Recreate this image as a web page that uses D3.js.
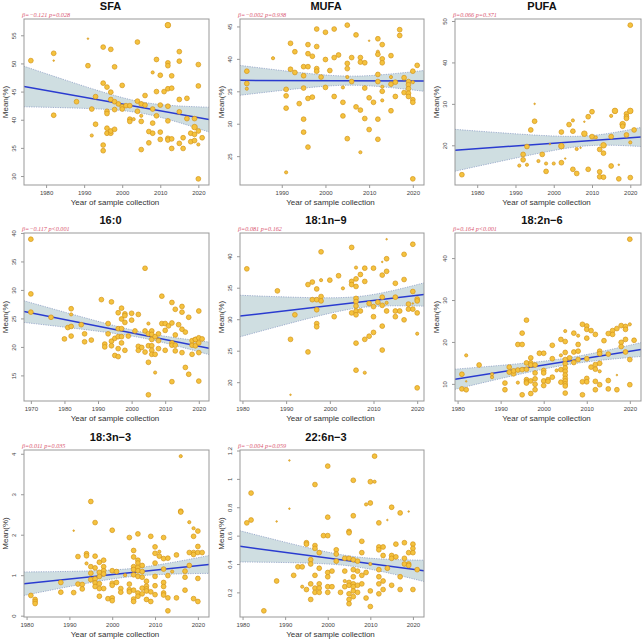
<!DOCTYPE html>
<html><head><meta charset="utf-8">
<script src="https://cdn.jsdelivr.net/npm/d3@7"></script>
<style>body{margin:0;background:#fff}svg{display:block}</style>
</head><body>
<script>
// ---------- DATA (points: [year, mean %, size code]) ----------
const titles = ["SFA","MUFA","PUFA","16:0","18:1n\u22129","18:2n\u22126","18:3n\u22123","22:6n\u22123"];
const betaLabels = ["\u03b2=\u22120.121","\u03b2=\u22120.002","\u03b2=0.066","\u03b2=\u22120.117","\u03b2=0.081","\u03b2=0.164","\u03b2=0.011","\u03b2=\u22120.004"];
const pLabels = ["p=0.028","p=0.938","p=0.371","p<0.001","p=0.162","p<0.001","p=0.035","p=0.059"];
const betas = [-0.121,-0.002,0.066,-0.117,0.081,0.164,0.011,-0.004];
const fitAt2000 = [42.78,36.65,20.5,22.45,32.17,14.48,1.017,0.442];
// CI half-widths: at left edge, at right edge, minimum
const ciLeft = [3.6,2.3,5.05,1.9,3.3,2.4,0.29,0.11];
const ciRight = [2.2,1.6,2.3,1.1,1.85,1.65,0.22,0.075];
const ciMin = [1.0,0.7,1.2,0.5,0.9,0.8,0.1,0.035];

const xTicks = [
 [1980,1990,2000,2010,2020],[1990,2000,2010,2020],[1980,1990,2000,2010,2020],
 [1970,1980,1990,2000,2010,2020],[1980,1990,2000,2010,2020],[1980,1990,2000,2010,2020],
 [1980,1990,2000,2010,2020],[1980,1990,2000,2010,2020]];
const yTicks = [
 [30,35,40,45,50,55],[25,30,35,40,45],[20,30,40,50],[15,20,25,30,35,40],
 [20,25,30,35,40],[10,20,30,40],[0,1,2,3,4],[0.2,0.4,0.6,0.8,1,1.2]];

const sfaPts = [[1976,50.5,3],[1982,51.8,3],[1982,50.5,1],[1982,40.8,3],[1988,43.2,3],[1991,54.4,1],[1991,49.6,3],[1992,41.9,3],[1992,37.2,2],[1993,44.1,3],[1993,39.2,3],[1995,52.9,3],[1995,46.5,3],[1995,35.5,3],[1995,34.5,3],[1996,45.8,3],[1996,41.5,3],[1996,41.1,3],[1996,38.5,3],[1996,37.6,3],[1997,44.9,3],[1997,52.5,3],[1997,43.6,3],[1997,37.6,3],[1997,38.0,3],[1998,49.4,3],[1998,43.2,3],[1998,41.8,3],[1998,38.3,3],[1999,42.8,3],[2000,46.1,3],[2000,42.3,3],[2000,41.9,3],[2001,42.5,3],[2002,42.5,3],[2002,40.1,3],[2002,39.7,3],[2003,40.1,2],[2004,53.8,3],[2004,43.3,3],[2004,41.5,3],[2005,40.7,2],[2005,42.8,3],[2005,39.7,3],[2005,34.7,3],[2006,44.3,3],[2006,42.6,3],[2007,37.9,3],[2007,35.9,3],[2008,48.4,2],[2008,41.9,3],[2008,39.4,3],[2008,37.6,3],[2009,50.7,3],[2009,45.0,3],[2009,40.7,3],[2010,47.9,3],[2010,42.6,3],[2010,37.8,3],[2010,36.5,3],[2011,45.0,3],[2012,56.8,4],[2012,50.1,3],[2012,49.6,3],[2012,45.5,3],[2012,42.4,3],[2012,39.8,3],[2012,36.7,3],[2012,36.4,3],[2013,47.8,3],[2013,45.6,3],[2013,36.6,3],[2013,34.9,3],[2015,52.1,3],[2015,50.4,3],[2015,43.6,3],[2015,41.4,3],[2015,35.8,3],[2016,36.8,3],[2016,34.9,3],[2017,43.8,3],[2017,40.2,3],[2018,37.6,3],[2018,36.1,3],[2019,40.2,3],[2019,38.7,4],[2019,37.4,3],[2019,36.3,3],[2020,49.8,3],[2020,46.0,3],[2020,38.0,3],[2020,35.6,2],[2020,29.5,3],[2021,36.8,3]];

const mufaPts = [[1982,38.1,3],[1982,36.2,3],[1982,35.4,2],[1988,40.1,2],[1991,35.3,3],[1991,34.3,3],[1991,32.4,3],[1991,22.5,2],[1992,42.4,3],[1992,38.4,3],[1993,41.1,3],[1993,37.9,3],[1994,33.1,3],[1995,38.8,3],[1995,37.4,3],[1995,35.5,3],[1995,30.7,3],[1995,28.7,3],[1996,42.2,3],[1996,40.8,3],[1996,38.8,3],[1996,33.9,3],[1996,26.4,3],[1997,40.4,3],[1997,34.1,3],[1998,44.6,3],[1998,41.9,3],[1998,38.5,3],[1998,38.1,3],[1999,37.2,3],[2000,44.1,3],[2000,39.9,3],[2000,35.6,3],[2001,38.2,3],[2002,44.6,3],[2002,40.2,3],[2002,34.2,3],[2003,40.6,3],[2004,35.6,2],[2004,33.3,3],[2004,31.2,3],[2005,45.2,3],[2005,39.3,3],[2005,38.5,3],[2005,37.2,2],[2005,27.7,3],[2006,40.2,3],[2006,36.5,3],[2007,43.7,3],[2007,32.6,3],[2008,40.2,3],[2008,39.5,3],[2008,32.1,3],[2008,25.6,2],[2009,39.4,3],[2009,35.5,3],[2009,30.8,3],[2010,42.8,1],[2010,34.0,3],[2010,29.1,3],[2011,33.3,3],[2012,43.1,3],[2012,41.1,2],[2012,40.7,3],[2012,37.6,3],[2012,36.5,3],[2012,30.7,3],[2012,27.6,3],[2013,42.2,3],[2013,40.0,3],[2013,39.4,3],[2013,35.7,2],[2013,35.0,3],[2013,33.6,2],[2015,40.5,3],[2015,37.2,2],[2015,36.1,3],[2015,32.0,3],[2016,36.4,3],[2016,34.2,3],[2017,44.5,3],[2017,43.6,3],[2018,37.1,3],[2018,34.8,3],[2019,36.5,3],[2019,36.0,3],[2019,35.4,3],[2019,34.7,3],[2019,34.2,3],[2020,38.1,3],[2020,36.4,2],[2020,33.7,3],[2020,33.3,3],[2020,21.5,3],[2021,39.0,3]];

const pufaPts = [[1976,12.9,3],[1991,15.1,2],[1992,17.8,3],[1992,16.5,3],[1993,19.7,3],[1993,15.3,2],[1994,23.7,3],[1995,30.0,1],[1995,25.8,3],[1996,16.2,2],[1997,17.8,3],[1998,15.6,2],[1998,13.7,3],[1999,20.3,1],[2000,15.6,2],[2002,23.2,3],[2002,19.8,4],[2002,15.8,3],[2003,16.8,1],[2004,25.0,3],[2005,26.0,2],[2005,23.4,3],[2005,14.2,3],[2006,19.1,2],[2006,13.2,3],[2007,19.4,1],[2008,25.7,1],[2008,22.8,4],[2009,26.9,3],[2009,14.2,3],[2010,28.1,3],[2010,22.1,3],[2011,21.9,2],[2012,19.0,3],[2012,13.6,3],[2012,12.4,3],[2013,20.0,4],[2013,18.1,3],[2013,12.3,3],[2015,27.1,2],[2015,22.1,3],[2015,15.0,3],[2016,28.3,4],[2017,15.3,1],[2017,11.9,3],[2018,25.1,4],[2018,24.6,3],[2019,27.6,3],[2019,26.9,3],[2019,26.5,3],[2019,22.5,3],[2020,49.0,3],[2020,28.3,4],[2020,20.7,2],[2020,12.2,3],[2021,23.7,3]];

const c160Pts = [[1970,38.9,3],[1970,29.3,3],[1970,26.1,3],[1976,25.2,3],[1980,21.4,3],[1981,23.4,3],[1982,26.7,3],[1982,25.7,2],[1982,23.6,3],[1982,21.9,3],[1985,23.9,3],[1986,22.3,3],[1986,20.9,3],[1988,21.2,3],[1991,28.3,3],[1992,20.5,3],[1992,20.0,3],[1993,24.1,3],[1993,22.3,3],[1994,27.9,3],[1994,21.0,3],[1994,20.2,3],[1995,21.5,3],[1995,18.5,3],[1996,26.0,3],[1996,23.2,3],[1996,21.8,3],[1996,19.7,3],[1996,18.3,3],[1997,26.8,3],[1997,24.9,3],[1997,23.2,3],[1997,21.8,3],[1997,20.7,3],[1998,25.8,3],[1998,25.5,3],[1998,24.3,3],[1998,19.4,3],[1999,21.9,3],[2000,25.9,3],[2000,24.7,3],[2001,22.8,3],[2002,25.7,3],[2002,20.1,3],[2002,19.4,3],[2003,19.9,3],[2004,33.8,3],[2004,22.8,3],[2004,19.1,3],[2005,24.1,2],[2005,22.3,3],[2005,20.2,3],[2005,17.3,3],[2005,11.6,3],[2006,22.8,3],[2006,22.2,3],[2006,21.3,3],[2006,20.2,3],[2006,19.4,3],[2006,18.7,3],[2007,21.8,3],[2007,18.7,3],[2007,15.5,2],[2008,22.3,3],[2008,21.1,3],[2008,19.7,3],[2009,28.9,3],[2009,24.1,3],[2010,24.1,3],[2010,22.9,3],[2010,19.4,3],[2011,23.7,3],[2012,27.8,3],[2012,24.2,3],[2012,20.7,3],[2012,20.3,3],[2012,13.9,3],[2013,26.6,3],[2013,22.1,3],[2013,20.3,3],[2013,19.3,3],[2014,23.9,3],[2015,27.1,3],[2015,26.1,3],[2015,23.1,3],[2015,19.0,3],[2016,22.6,3],[2016,16.4,3],[2017,25.2,3],[2017,15.2,3],[2018,20.3,3],[2018,18.7,3],[2018,21.1,3],[2019,21.3,3],[2019,20.2,3],[2019,21.3,3],[2020,26.3,3],[2020,21.6,3],[2020,20.7,3],[2020,19.0,3],[2020,14.0,3],[2021,21.4,3]];

const c181Pts = [[1981,38.0,3],[1988,34.5,3],[1991,26.8,3],[1991,18.0,1],[1992,30.7,3],[1995,35.5,3],[1995,24.8,3],[1996,35.9,3],[1996,33.1,3],[1997,34.8,3],[1997,33.1,3],[1997,31.5,3],[1997,29.3,3],[1997,28.8,3],[1998,40.7,3],[1998,36.2,2],[1998,33.6,3],[1998,32.9,3],[2000,36.2,3],[2001,30.4,3],[2002,36.9,3],[2003,34.9,2],[2005,41.4,3],[2005,36.0,3],[2005,35.5,3],[2005,31.0,3],[2006,38.2,2],[2006,36.4,3],[2006,35.2,3],[2006,33.3,3],[2006,32.8,3],[2006,32.1,3],[2006,31.3,3],[2006,30.7,3],[2006,26.2,3],[2006,21.9,3],[2007,37.1,3],[2007,31.3,3],[2008,38.1,3],[2008,36.0,3],[2008,26.8,3],[2008,21.5,2],[2009,32.5,3],[2009,27.3,3],[2010,38.1,3],[2010,32.0,3],[2010,30.4,3],[2010,27.9,3],[2011,32.7,3],[2012,39.1,1],[2012,37.0,3],[2012,33.5,3],[2012,32.2,3],[2012,28.9,3],[2012,25.1,3],[2013,42.7,1],[2013,39.6,3],[2013,37.6,3],[2013,32.6,2],[2013,31.3,3],[2015,35.7,3],[2015,33.5,3],[2015,31.3,3],[2015,30.4,3],[2016,31.3,3],[2017,40.3,3],[2017,36.3,3],[2017,29.9,3],[2018,32.4,3],[2018,31.6,3],[2019,41.9,3],[2019,34.4,3],[2019,32.5,1],[2019,31.6,3],[2020,33.2,3],[2020,32.9,3],[2020,31.0,3],[2020,27.7,2],[2020,19.1,3]];

const c182Pts = [[1981,12.3,3],[1981,8.8,3],[1982,16.8,2],[1982,10.6,1],[1982,8.6,3],[1985,14.5,3],[1988,12.3,2],[1988,11.6,2],[1991,10.2,3],[1991,8.6,3],[1992,14.0,3],[1992,12.8,3],[1993,12.4,3],[1993,13.1,3],[1994,19.4,3],[1994,13.3,3],[1994,10.3,2],[1995,22.1,3],[1995,19.4,3],[1995,13.4,3],[1995,7.4,3],[1996,25.2,3],[1996,15.0,3],[1996,13.5,3],[1996,11.0,3],[1996,10.5,3],[1996,10.2,3],[1997,16.2,3],[1997,15.0,3],[1997,14.5,3],[1997,10.7,3],[1997,7.7,3],[1998,14.5,3],[1998,12.6,3],[1998,11.2,3],[1998,9.9,3],[1998,8.6,3],[1999,17.3,3],[2000,17.3,3],[2000,13.2,3],[2000,12.6,3],[2000,10.7,3],[2000,9.6,3],[2001,11.0,3],[2001,10.6,3],[2002,16.0,3],[2002,19.2,3],[2002,11.6,3],[2003,13.2,2],[2004,20.6,3],[2004,16.8,2],[2004,13.4,3],[2004,10.4,3],[2005,22.6,2],[2005,20.1,3],[2005,17.5,3],[2005,15.8,3],[2005,14.8,3],[2005,13.8,3],[2005,13.0,3],[2005,12.1,3],[2005,11.3,3],[2005,10.7,3],[2005,10.0,3],[2005,9.5,3],[2005,7.8,3],[2006,16.2,3],[2007,22.1,3],[2007,17.6,3],[2007,15.1,3],[2008,21.5,2],[2008,19.4,3],[2008,17.8,3],[2008,15.8,3],[2009,24.2,3],[2009,10.5,3],[2009,7.4,3],[2010,23.8,3],[2010,23.0,3],[2010,20.9,3],[2010,16.0,3],[2010,11.3,3],[2010,10.5,3],[2011,22.7,3],[2011,14.0,3],[2012,21.8,3],[2012,14.6,3],[2012,13.5,3],[2012,10.6,3],[2012,8.6,3],[2013,17.8,3],[2013,17.2,3],[2013,14.9,3],[2013,13.0,2],[2013,9.8,3],[2014,20.3,3],[2015,22.0,3],[2015,17.1,3],[2015,10.8,3],[2015,8.8,3],[2016,22.7,3],[2016,21.8,3],[2017,23.2,3],[2017,12.1,1],[2017,8.6,3],[2018,23.9,3],[2018,19.9,3],[2018,18.9,3],[2019,23.7,3],[2019,23.0,3],[2019,20.6,3],[2019,17.6,3],[2020,44.5,3],[2020,24.2,2],[2020,15.8,3],[2020,9.8,3],[2021,20.4,3]];

const c183Pts = [[1981,0.50,3],[1982,0.40,3],[1982,0.35,3],[1982,0.30,3],[1988,0.82,3],[1988,0.58,3],[1991,0.57,3],[1991,2.10,1],[1992,1.46,3],[1992,0.78,3],[1993,0.77,3],[1993,0.66,3],[1994,1.53,3],[1994,1.48,3],[1994,1.29,2],[1995,2.82,3],[1995,1.21,3],[1995,1.05,3],[1995,0.89,3],[1996,2.30,3],[1996,1.47,3],[1996,1.18,3],[1996,0.91,3],[1996,0.81,3],[1996,0.72,3],[1997,1.32,3],[1997,1.07,3],[1997,0.97,3],[1997,0.79,3],[1997,0.67,3],[1997,0.48,3],[1998,1.37,3],[1998,1.21,3],[1998,1.11,3],[1998,1.03,3],[1998,0.67,3],[1999,0.42,3],[2000,2.11,3],[2000,1.11,3],[2000,0.80,3],[2000,0.75,3],[2000,0.44,3],[2000,0.37,3],[2001,1.09,3],[2001,0.82,3],[2002,0.67,3],[2002,0.58,3],[2003,1.00,2],[2004,1.93,3],[2004,0.78,3],[2004,0.64,3],[2004,0.59,3],[2005,1.61,3],[2005,1.45,3],[2005,1.21,3],[2005,1.14,3],[2005,1.01,3],[2005,0.63,3],[2005,0.41,3],[2005,0.35,3],[2006,2.02,3],[2006,1.37,3],[2006,1.30,3],[2006,1.19,3],[2006,1.11,3],[2006,0.97,3],[2006,0.56,3],[2006,0.48,3],[2007,1.24,3],[2007,1.09,3],[2007,0.95,3],[2007,0.68,3],[2007,0.54,3],[2008,0.85,3],[2008,0.73,3],[2008,0.66,3],[2008,0.61,3],[2008,0.40,3],[2009,1.96,3],[2009,0.59,3],[2009,0.35,3],[2010,1.70,3],[2010,1.54,3],[2010,1.30,3],[2010,0.97,3],[2010,0.74,3],[2010,0.52,3],[2011,1.58,2],[2011,1.47,3],[2012,1.93,3],[2012,1.41,3],[2012,1.15,3],[2012,0.82,3],[2012,0.72,3],[2012,0.56,3],[2012,0.51,3],[2013,1.42,3],[2013,0.99,3],[2013,0.44,3],[2013,0.12,3],[2014,1.09,2],[2015,1.50,3],[2015,0.44,3],[2016,3.94,2],[2016,2.58,3],[2016,2.56,3],[2017,1.10,3],[2017,0.95,3],[2017,0.63,3],[2018,2.31,2],[2018,1.56,3],[2018,1.24,3],[2019,2.16,2],[2019,1.96,3],[2019,1.56,3],[2019,1.51,3],[2019,0.42,3],[2020,2.09,3],[2020,1.71,3],[2020,1.56,3],[2020,0.92,3],[2020,0.35,3],[2021,1.56,3]];

const c226Pts = [[1981,0.69,3],[1982,0.90,3],[1982,0.71,3],[1985,0.07,3],[1988,0.28,3],[1988,0.70,1],[1991,1.13,1],[1991,0.79,1],[1992,0.32,3],[1993,0.38,3],[1994,0.38,3],[1994,0.24,2],[1995,0.55,3],[1995,0.54,3],[1995,0.22,3],[1996,0.43,3],[1996,0.40,3],[1996,0.26,3],[1996,0.15,3],[1997,0.96,3],[1997,0.53,3],[1997,0.51,3],[1997,0.32,3],[1997,0.23,3],[1997,0.20,3],[1998,0.48,3],[1998,0.37,3],[1998,0.26,3],[1998,0.23,3],[1998,0.20,3],[1999,0.60,3],[2000,1.09,3],[2000,0.73,3],[2000,0.60,3],[2000,0.34,3],[2000,0.31,3],[2000,0.24,3],[2000,0.20,3],[2001,0.35,3],[2001,0.24,3],[2002,0.50,3],[2002,0.47,3],[2002,0.42,3],[2003,0.20,3],[2004,0.44,3],[2004,0.35,3],[2004,0.28,2],[2004,0.24,3],[2005,0.63,3],[2005,0.62,3],[2005,0.44,3],[2005,0.27,3],[2005,0.25,3],[2005,0.19,3],[2005,0.15,3],[2005,0.12,3],[2006,0.99,3],[2006,0.74,3],[2006,0.43,3],[2006,0.36,3],[2006,0.31,3],[2006,0.26,3],[2006,0.24,3],[2006,0.21,3],[2006,0.17,3],[2007,0.42,3],[2007,0.35,3],[2007,0.25,3],[2007,0.20,3],[2008,0.56,3],[2008,0.48,3],[2008,0.32,3],[2008,0.26,3],[2009,0.82,2],[2009,0.34,3],[2009,0.16,3],[2010,0.98,3],[2010,0.83,3],[2010,0.40,2],[2010,0.21,3],[2010,0.10,3],[2011,1.16,3],[2011,0.98,2],[2012,0.69,3],[2012,0.52,3],[2012,0.50,3],[2012,0.36,3],[2012,0.31,3],[2012,0.26,3],[2012,0.19,3],[2013,0.52,3],[2013,0.46,3],[2013,0.28,3],[2013,0.22,3],[2014,0.71,1],[2014,0.37,3],[2015,0.80,3],[2015,0.46,3],[2015,0.44,3],[2015,0.25,3],[2016,0.54,3],[2016,0.45,3],[2017,0.76,3],[2017,0.31,3],[2017,0.22,3],[2018,0.55,3],[2018,0.44,3],[2018,0.40,3],[2019,0.77,1],[2019,0.48,3],[2019,0.40,3],[2019,0.39,3],[2020,0.54,3],[2020,0.51,3],[2020,0.48,3],[2020,0.22,3],[2021,0.36,3]];

const pointSets = [sfaPts,mufaPts,pufaPts,c160Pts,c181Pts,c182Pts,c183Pts,c226Pts];

// ---------- LAYOUT ----------
const W = 642, H = 641;
const colX = [[24,209],[240,424],[455,641]];
const rowY = [[19,185],[233,401],[450,617]];
const radius = {1:0.8, 2:1.6, 3:2.4, 4:2.8};

const svg = d3.select("body").append("svg").attr("width",W).attr("height",H)
  .style("font-family","'Liberation Sans', Arial, sans-serif");

function padDomain(ext){ const r = ext[1]-ext[0]; return [ext[0]-0.04*r, ext[1]+0.04*r]; }

pointSets.forEach((pts,i)=>{
  const [x0,x1] = colX[i%3], [y0,y1] = rowY[Math.floor(i/3)];
  const xd = padDomain(d3.extent(pts,d=>d[0]));
  const yd = padDomain(d3.extent(pts,d=>d[1]));
  const x = d3.scaleLinear().domain(xd).range([x0,x1]);
  const y = d3.scaleLinear().domain(yd).range([y1,y0]);
  const g = svg.append("g");

  // regression + CI band
  const b = betas[i], f0 = fitAt2000[i];
  const fit = yr => f0 + b*(yr-2000);
  const hL = ciLeft[i], hR = ciRight[i], h0 = ciMin[i];
  const A = Math.sqrt(Math.max(hL*hL-h0*h0,0)), B = Math.sqrt(Math.max(hR*hR-h0*h0,0));
  const k = (A+B)/(xd[1]-xd[0]), xc = xd[0] + A/k;
  const hw = yr => Math.sqrt(h0*h0 + k*k*(yr-xc)*(yr-xc));
  const yrs = d3.range(0,61).map(j => xd[0] + (xd[1]-xd[0])*j/60);
  const clipId = "clip"+i;
  g.append("clipPath").attr("id",clipId).append("rect")
    .attr("x",x0).attr("y",y0).attr("width",x1-x0).attr("height",y1-y0);
  const cg = g.append("g").attr("clip-path",`url(#${clipId})`);
  cg.append("path").datum(yrs)
    .attr("d", d3.area().x(d=>x(d)).y0(d=>y(fit(d)-hw(d))).y1(d=>y(fit(d)+hw(d))))
    .attr("fill","#cfdee1").attr("stroke","none");
  [1,-1].forEach(s=>{
    cg.append("path").datum(yrs)
      .attr("d", d3.line().x(d=>x(d)).y(d=>y(fit(d)+s*hw(d))))
      .attr("fill","none").attr("stroke","#8a9cc4").attr("stroke-width",0.8)
      .attr("stroke-dasharray","1.2,1.2");
  });
  cg.append("line").attr("x1",x(xd[0])).attr("x2",x(xd[1]))
    .attr("y1",y(fit(xd[0]))).attr("y2",y(fit(xd[1])))
    .attr("stroke","#2a3bd0").attr("stroke-width",1.5);

  // points
  g.append("g").selectAll("circle").data(pts).join("circle")
    .attr("cx",d=>x(d[0])).attr("cy",d=>y(d[1])).attr("r",d=>radius[d[2]])
    .attr("fill","#f4c23e").attr("stroke","#d4951a").attr("stroke-width",0.7);

  // box
  g.append("rect").attr("x",x0).attr("y",y0).attr("width",x1-x0).attr("height",y1-y0)
    .attr("fill","none").attr("stroke","#999").attr("stroke-width",1);

  // axes
  const xa = g.append("g").attr("transform",`translate(0,${y1})`)
    .call(d3.axisBottom(x).tickValues(xTicks[i]).tickSize(3).tickPadding(3).tickFormat(d3.format("d")));
  const ya = g.append("g").attr("transform",`translate(${x0},0)`)
    .call(d3.axisLeft(y).tickValues(yTicks[i]).tickSize(3).tickFormat(d=>String(d)));
  [xa,ya].forEach(a=>{
    a.select(".domain").remove();
    a.selectAll(".tick line").attr("stroke","#999");
    a.selectAll(".tick text").attr("fill","#444").attr("font-size",6)
      .attr("font-family","'Liberation Sans', Arial, sans-serif");
  });
  ya.selectAll(".tick text").attr("text-anchor","middle").attr("x",null).attr("dy",null)
    .attr("transform","translate(-8,0) rotate(-90)");

  // titles and labels
  const cx = (x0+x1)/2;
  g.append("text").attr("x",cx-6).attr("y",y0-9.5).attr("text-anchor","middle")
    .attr("font-size",11).attr("font-weight","bold").attr("fill","#111").text(titles[i]);
  g.append("text").attr("x",x0-2).attr("y",y0-2.5)
    .attr("font-family","'Liberation Serif', 'Times New Roman', serif").attr("font-style","italic")
    .attr("font-size",6.2).attr("fill","#d9566f").text(betaLabels[i]+" "+pLabels[i]);
  g.append("text").attr("x",cx-1.5).attr("y",y1+20).attr("text-anchor","middle")
    .attr("font-size",8).attr("fill","#333").text("Year of sample collection");
  g.append("text").attr("transform",`translate(${x0-16.5},${(y0+y1)/2}) rotate(-90)`)
    .attr("text-anchor","middle").attr("font-size",8).attr("fill","#333").text("Mean(%)");
});
</script>
</body></html>
